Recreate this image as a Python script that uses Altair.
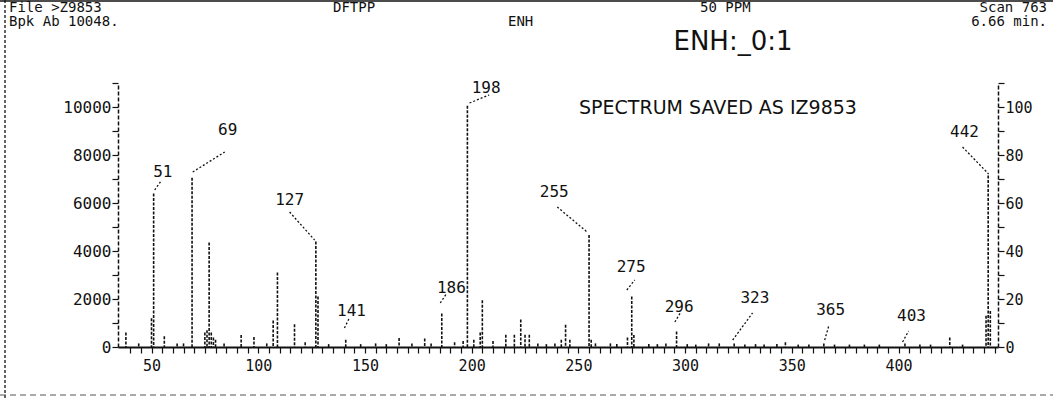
import altair as alt
import pandas as pd

# ---- data ----
peak_mz = [38, 44, 50, 51, 56, 62, 65, 69, 75, 76, 77, 78, 79, 80, 84, 92, 98, 104, 107, 109,
           117, 122, 127, 128, 133, 141, 148, 155, 160, 166, 172, 178, 181, 186, 192, 196, 198,
           201, 204, 205, 210, 216, 220, 223, 225, 227, 231, 235, 239, 242, 244, 246, 255, 256,
           258, 265, 268, 273, 275, 276, 283, 287, 291, 296, 301, 305, 311, 316, 323, 328, 333,
           337, 343, 347, 353, 358, 365, 370, 377, 384, 391, 403, 410, 415, 424, 430, 441, 442, 443]
peak_ab = [600, 150, 1200, 6400, 450, 150, 150, 7050, 600, 700, 4350, 600, 400, 300, 150, 500, 420, 150, 1100, 3100,
           950, 200, 4400, 2100, 120, 300, 120, 150, 120, 380, 150, 350, 150, 1400, 200, 250, 10048,
           300, 600, 1950, 250, 510, 510, 1150, 510, 510, 150, 120, 150, 300, 930, 300, 4670, 300,
           150, 150, 120, 400, 2100, 500, 120, 120, 150, 650, 120, 100, 150, 150, 150, 100, 120,
           100, 120, 200, 100, 100, 150, 100, 100, 100, 100, 150, 100, 100, 400, 100, 1300, 7150, 1500]

label_text = ["198", "69", "51", "127", "141", "186", "255", "275", "296", "323", "365", "403", "442"]
label_mz = [206.8, 85.7, 55.3, 114.7, 143.7, 190.5, 238.7, 274.7, 297.2, 332.7, 368.2, 406.1, 430.9]
label_ab = [10792, 9042, 7292, 6125, 1500, 2458, 6458, 3333, 1667, 2042, 1542, 1292, 8958]

leader_mz1 = [199.0, 69.3, 51.5, 114.7, 140.4, 185.3, 240.1, 272.7, 295.2, 322.3, 365.4, 401.9, 430.0]
leader_ab1 = [10167, 7292, 6542, 5625, 792, 1833, 5833, 2375, 1042, 292, 292, 208, 8333]
leader_mz2 = [208.2, 84.3, 54.8, 126.4, 142.7, 188.1, 254.1, 276.4, 298.0, 331.6, 367.3, 404.7, 442.2]
leader_ab2 = [10500, 8125, 6958, 4458, 1208, 2208, 4792, 2792, 1458, 1417, 875, 667, 7208]

x_ticks = list(range(40, 447, 5))
left_ticks = list(range(0, 11001, 1000))
right_ticks = list(range(0, 111, 10))

MONO = "DejaVu Sans Mono"
INK = "#111111"

peaks = pd.DataFrame({"mz": peak_mz, "ab": peak_ab})
labels = pd.DataFrame({"mz": label_mz, "ab": label_ab, "t": label_text})
leaders = pd.DataFrame({"mz1": leader_mz1, "ab1": leader_ab1, "mz2": leader_mz2, "ab2": leader_ab2})

xscale = alt.Scale(domain=[34.3, 446.6], nice=False, zero=False)
yscale = alt.Scale(domain=[0, 11000], nice=False)

x_axis = alt.Axis(values=x_ticks, labelExpr="datum.value % 50 == 0 ? '' + datum.value : ''",
                  labelOverlap=False, labelFlush=False, labelBound=False,
                  title=None, grid=False, tickSize=6, tickColor=INK, domainColor=INK,
                  domainWidth=1.8, tickWidth=1.2, labelFont=MONO, labelFontSize=15,
                  labelColor=INK, labelPadding=5)
y_axis = alt.Axis(values=left_ticks, labelExpr="datum.value % 2000 == 0 ? '' + datum.value : ''",
                  labelOverlap=False, labelFlush=False, labelBound=False,
                  title=None, grid=False, tickSize=6, tickColor=INK, domainColor=INK,
                  domainDash=[4, 2], domainWidth=1.5, tickWidth=1.2, labelFont=MONO,
                  labelFontSize=16, labelColor=INK, labelPadding=1)
r_axis = alt.Axis(orient="right", values=right_ticks,
                  labelExpr="datum.value % 20 == 0 ? '' + datum.value : ''",
                  labelOverlap=False, labelFlush=False, labelBound=False,
                  title=None, grid=False, tickSize=6, tickColor=INK, domainColor=INK,
                  domainDash=[4, 2], domainWidth=1.5, tickWidth=1.2, labelFont=MONO,
                  labelFontSize=15, labelColor=INK, labelPadding=1)

peak_layer = alt.Chart(peaks).mark_rule(color=INK, strokeWidth=1.6, strokeDash=[3, 1.5]).encode(
    x=alt.X("mz:Q", scale=xscale, axis=x_axis),
    y=alt.Y("ab:Q", scale=yscale, axis=y_axis),
    y2=alt.datum(0),
)

label_layer = alt.Chart(labels).mark_text(font=MONO, fontSize=16, color=INK).encode(
    x=alt.X("mz:Q", scale=xscale, axis=x_axis),
    y=alt.Y("ab:Q", scale=yscale, axis=y_axis), text="t:N")

leader_layer = alt.Chart(leaders).mark_rule(color=INK, strokeWidth=1.3, strokeDash=[2, 2]).encode(
    x=alt.X("mz1:Q", scale=xscale, axis=x_axis),
    y=alt.Y("ab1:Q", scale=yscale, axis=y_axis),
    x2="mz2:Q", y2="ab2:Q")

left_layer = alt.layer(peak_layer, leader_layer, label_layer)

right_df = pd.DataFrame({"mz": [440, 440], "pct": [0, 110]})
right_layer = alt.Chart(right_df).mark_point(opacity=0).encode(
    x=alt.X("mz:Q", scale=xscale, axis=x_axis),
    y=alt.Y("pct:Q", scale=alt.Scale(domain=[0, 110], nice=False), axis=r_axis),
)

# ---- header texts and page frame (pixel offsets from plot origin at 118,83) ----
one = pd.DataFrame({"a": [0]})
def txt(s, x, y, align="left", size=14, font=MONO):
    return alt.Chart(one).mark_text(align=align, baseline="middle", font=font,
                                    fontSize=size, color=INK).encode(
        x=alt.value(x), y=alt.value(y), text=alt.value(s))

header = [
    txt("File >Z9853", 9 - 118, 8 - 83),
    txt("DFTPP", 333 - 118, 8 - 83),
    txt("50 PPM", 700 - 118, 8 - 83),
    txt("Scan 763", 1047 - 118, 8 - 83, align="right"),
    txt("Bpk Ab 10048.", 9 - 118, 22 - 83),
    txt("ENH", 508 - 118, 22 - 83),
    txt("6.66 min.", 1047 - 118, 22 - 83, align="right"),
    txt("ENH:_0:1", 733 - 118, 42 - 83, align="center", size=26, font="DejaVu Sans"),
    txt("SPECTRUM SAVED AS IZ9853", 718 - 118, 108 - 83, align="center", size=19,
        font="DejaVu Sans"),
]

frame = [
    alt.Chart(one).mark_rule(color=INK, strokeWidth=1.5).encode(
        x=alt.value(-118), x2=alt.value(1053 - 118), y=alt.value(-82)),
    alt.Chart(one).mark_rule(color=INK, strokeWidth=1.3, strokeDash=[3, 2]).encode(
        x=alt.value(5 - 118), y=alt.value(-83), y2=alt.value(399 - 83)),
    alt.Chart(one).mark_rule(color="#555555", strokeWidth=1.0, strokeDash=[6, 4]).encode(
        x=alt.value(-118), x2=alt.value(1053 - 118), y=alt.value(395 - 83)),
]

chart = alt.layer(left_layer, right_layer, *header, *frame).resolve_scale(
    y="independent"
).properties(
    width=880, height=264,
    padding={"left": 118, "top": 83, "right": 55, "bottom": 52},
    autosize=alt.AutoSizeParams(type="none"),
    background="white",
).configure_view(stroke=None)

chart.save("out.html", embed_options={"renderer": "svg", "actions": False})
